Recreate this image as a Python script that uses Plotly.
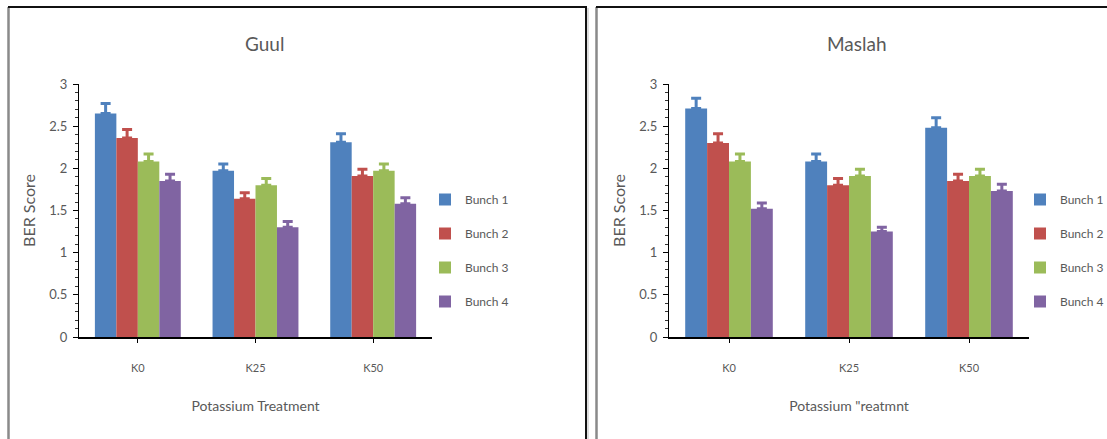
import plotly.graph_objects as go

categories = ["K0", "K25", "K50"]
series_names = ["Bunch 1", "Bunch 2", "Bunch 3", "Bunch 4"]
colors = ["#4F81BD", "#C0504D", "#9BBB59", "#8064A2"]

guul_b1 = [2.65, 1.97, 2.31]
guul_b2 = [2.36, 1.64, 1.91]
guul_b3 = [2.08, 1.80, 1.97]
guul_b4 = [1.85, 1.30, 1.58]
guul_err_b1 = [0.12, 0.08, 0.10]
guul_err_b2 = [0.10, 0.07, 0.08]
guul_err_b3 = [0.09, 0.08, 0.08]
guul_err_b4 = [0.08, 0.07, 0.07]

maslah_b1 = [2.71, 2.08, 2.48]
maslah_b2 = [2.30, 1.80, 1.85]
maslah_b3 = [2.08, 1.91, 1.91]
maslah_b4 = [1.52, 1.25, 1.73]
maslah_err_b1 = [0.12, 0.09, 0.12]
maslah_err_b2 = [0.11, 0.08, 0.08]
maslah_err_b3 = [0.09, 0.08, 0.08]
maslah_err_b4 = [0.07, 0.05, 0.08]

titles = ["Guul", "Maslah"]
x_titles = ["Potassium Treatment", "Potassium \"reatmnt"]
y_title = "BER Score"

guul = [guul_b1, guul_b2, guul_b3, guul_b4]
guul_err = [guul_err_b1, guul_err_b2, guul_err_b3, guul_err_b4]
maslah = [maslah_b1, maslah_b2, maslah_b3, maslah_b4]
maslah_err = [maslah_err_b1, maslah_err_b2, maslah_err_b3, maslah_err_b4]

W, H = 1107, 439
FONT = "Lato, Open Sans, sans-serif"
TXT = "#595959"


def px_x(p):
    return p / W


def px_y(p):
    return 1 - p / H


fig = go.Figure()

panels = [
    (guul, guul_err, "x", "y", "legend"),
    (maslah, maslah_err, "x2", "y2", "legend2"),
]
for vals, errs, xa, ya, lg in panels:
    for i, name in enumerate(series_names):
        fig.add_trace(go.Bar(
            x=categories, y=vals[i], name=name,
            marker=dict(color=colors[i], line=dict(width=0)),
            error_y=dict(type="data", array=errs[i], arrayminus=[0] * len(errs[i]),
                         symmetric=False, color=colors[i], thickness=3, width=5),
            xaxis=xa, yaxis=ya, legend=lg, legendgroup=name + lg,
        ))

axis_common_x = dict(
    type="category", showline=True, linecolor="black", linewidth=2,
    ticks="outside", ticklen=4, tickcolor="black", tickwidth=1,
    tickfont=dict(family=FONT, size=11, color=TXT), showgrid=False,
    zeroline=False, ticklabelstandoff=16,
)
axis_common_y = dict(
    range=[0, 3], dtick=0.5, tick0=0, showline=True, linecolor="black", linewidth=1,
    ticks="outside", ticklen=5, tickcolor="black",
    minor=dict(dtick=0.1, ticks="outside", ticklen=3, tickcolor="#333333"),
    tickfont=dict(family=FONT, size=13, color=TXT), showgrid=False,
    zeroline=False, ticklabelstandoff=3,
)

xt_font = dict(family=FONT, size=14, color=TXT)
yt_font = dict(family=FONT, size=16, color=TXT)
leg_font = dict(family=FONT, size=12, color=TXT)
ttl_font = dict(family=FONT, size=19, color=TXT)

fig.update_layout(
    width=W, height=H,
    margin=dict(l=0, r=0, t=0, b=0, autoexpand=False),
    paper_bgcolor="white", plot_bgcolor="white",
    barmode="group", bargap=0.27, bargroupgap=0,
    showlegend=True,
    xaxis=dict(domain=[px_x(79), px_x(432)], anchor="y",
               title=dict(text=x_titles[0], font=xt_font, standoff=28), **axis_common_x),
    yaxis=dict(domain=[px_y(337), px_y(84)], anchor="x",
               title=dict(text=y_title, font=yt_font, standoff=9), **axis_common_y),
    xaxis2=dict(domain=[px_x(669), px_x(1029)], anchor="y2",
                title=dict(text=x_titles[1], font=xt_font, standoff=28), **axis_common_x),
    yaxis2=dict(domain=[px_y(337), px_y(84)], anchor="x2",
                title=dict(text=y_title, font=yt_font, standoff=9), **axis_common_y),
    legend=dict(x=px_x(425), y=px_y(185), xanchor="left", yanchor="top",
                font=leg_font, tracegroupgap=15, bgcolor="rgba(0,0,0,0)", itemwidth=30),
    legend2=dict(x=px_x(1020), y=px_y(185), xanchor="left", yanchor="top",
                 font=leg_font, tracegroupgap=15, bgcolor="rgba(0,0,0,0)", itemwidth=30),
    annotations=[
        dict(text=titles[0], x=px_x(264), y=px_y(43), xref="paper", yref="paper",
             xanchor="center", yanchor="middle", showarrow=False, font=ttl_font),
        dict(text=titles[1], x=px_x(857), y=px_y(43), xref="paper", yref="paper",
             xanchor="center", yanchor="middle", showarrow=False, font=ttl_font),
    ],
    shapes=[
        dict(type="line", xref="paper", yref="paper", x0=px_x(8.5), x1=px_x(8.5), y0=px_y(7), y1=0,
             line=dict(color="#8a8a8a", width=2.5)),
        dict(type="line", xref="paper", yref="paper", x0=px_x(8), x1=px_x(587), y0=px_y(7), y1=px_y(7),
             line=dict(color="#111111", width=2)),
        dict(type="line", xref="paper", yref="paper", x0=px_x(586), x1=px_x(586), y0=px_y(7), y1=0,
             line=dict(color="#111111", width=2)),
        dict(type="line", xref="paper", yref="paper", x0=px_x(588), x1=px_x(588), y0=px_y(8), y1=0,
             line=dict(color="#bbbbbb", width=1)),
        dict(type="line", xref="paper", yref="paper", x0=px_x(596.5), x1=px_x(596.5), y0=px_y(7), y1=0,
             line=dict(color="#8a8a8a", width=2.5)),
        dict(type="line", xref="paper", yref="paper", x0=px_x(596), x1=1, y0=px_y(7), y1=px_y(7),
             line=dict(color="#111111", width=2)),
    ],
)

fig.write_html("out.html", config={"displayModeBar": False},
               post_script="document.body.style.margin='0';")
